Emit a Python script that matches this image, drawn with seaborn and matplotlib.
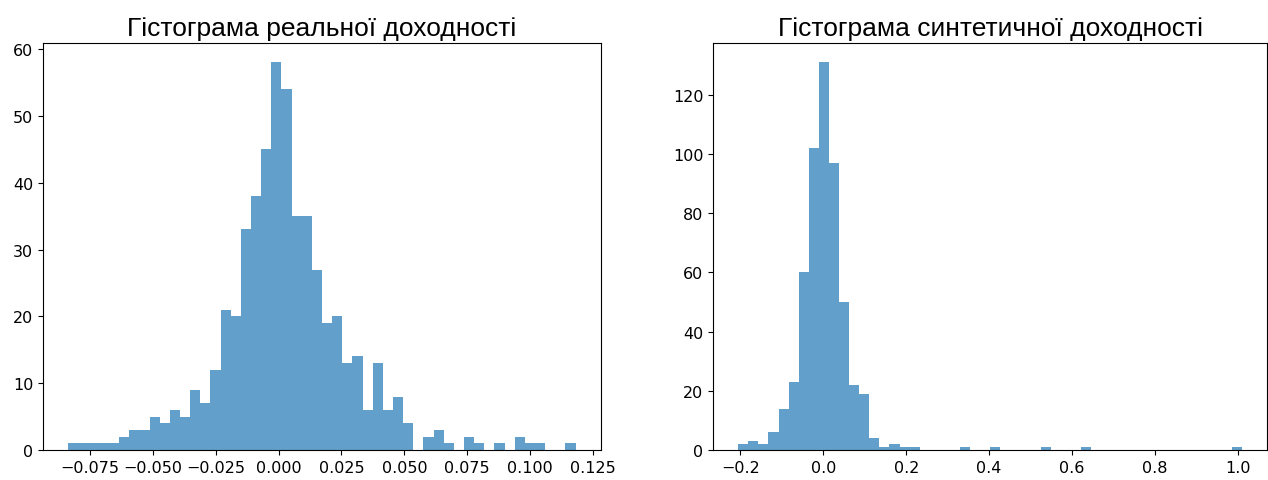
import numpy as np
import pandas as pd
import matplotlib
matplotlib.use("Agg")
import matplotlib.pyplot as plt
import seaborn as sns

# Real returns histogram (50 bins)
real_min, real_max = -0.0836, 0.1181
real_counts = [1, 1, 1, 1, 1, 2, 3, 3, 5, 4,
               6, 5, 9, 7, 12, 21, 20, 33, 38, 45,
               58, 54, 35, 35, 27, 19, 20, 13, 14, 6,
               13, 6, 8, 4, 0, 2, 3, 1, 0, 2,
               1, 0, 1, 0, 2, 1, 1, 0, 0, 1]

# Synthetic returns histogram (50 bins)
syn_min, syn_max = -0.205, 1.0103
syn_counts = [2, 3, 2, 6, 14, 23, 60, 102, 131, 97,
              50, 22, 19, 4, 1, 2, 1, 1, 0, 0,
              0, 0, 1, 0, 0, 1, 0, 0, 0, 0,
              1, 0, 0, 0, 1, 0, 0, 0, 0, 0,
              0, 0, 0, 0, 0, 0, 0, 0, 0, 1]

titles = ["Гістограма реальної доходності", "Гістограма синтетичної доходності"]

fig = plt.figure(figsize=(12.68, 4.81), dpi=100)
ax1 = fig.add_axes([43/1268, 30/481, 558/1268, 407/481])
ax2 = fig.add_axes([713/1268, 30/481, 554.5/1268, 407/481])

for ax, lo, hi, counts, title in [(ax1, real_min, real_max, real_counts, titles[0]),
                                   (ax2, syn_min, syn_max, syn_counts, titles[1])]:
    edges = np.linspace(lo, hi, len(counts) + 1)
    centers = (edges[:-1] + edges[1:]) / 2
    df = pd.DataFrame({"x": centers, "w": counts})
    sns.histplot(data=df, x="x", weights="w", bins=len(counts), binrange=(lo, hi),
                 ax=ax, color="#1f77b4", alpha=0.7, linewidth=0)
    ax.set_xlabel("")
    ax.set_ylabel("")
    ax.set_title(title, fontsize=19, family=["Liberation Sans", "DejaVu Sans"], pad=6)
    ax.tick_params(labelsize=11.5)
    ax.set_xlim(lo - 0.05 * (hi - lo), hi + 0.05 * (hi - lo))
    ax.set_ylim(0, max(counts) * 1.05)

fig.savefig("out.png", dpi=100)
